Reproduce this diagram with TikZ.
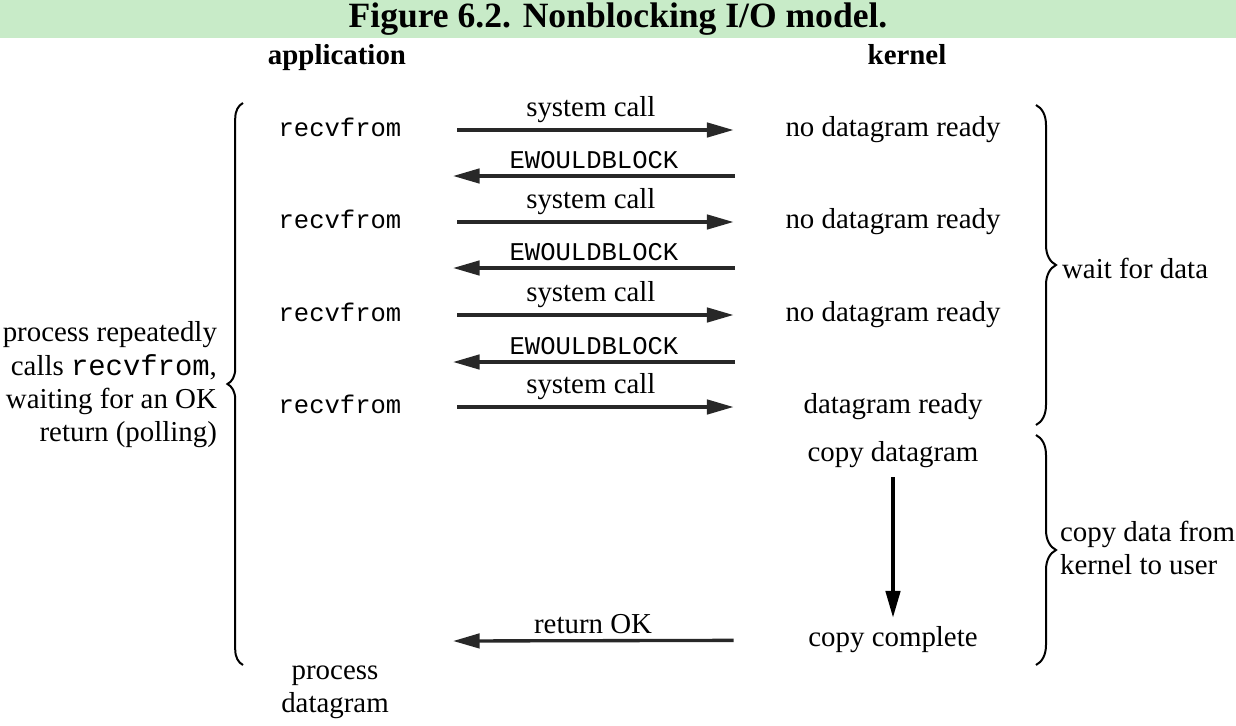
\documentclass[tikz,border=0pt]{standalone}
\usepackage{fontspec}
\setmainfont{Liberation Serif}
\setmonofont{Liberation Mono}
\usetikzlibrary{positioning, calc}
\usetikzlibrary{arrows.meta, decorations.pathreplacing}

\begin{document}
\begin{tikzpicture}[x=0.45pt, y=-0.45pt, font=\fontsize{13}{15}\selectfont, align=center, >={Triangle[length=12pt,width=6.5pt]}, line width=1.5pt]
        % Define colors
        \definecolor{titlegreen}{RGB}{200,235,200}
        \definecolor{inkgray}{RGB}{40,40,40}

        % Frame and title band
        \useasboundingbox (0,0) rectangle (1236,725);
        \fill[titlegreen] (0,0) rectangle (1236,38);
        \node[font=\fontsize{16}{18}\selectfont\bfseries] (title) at (618,19) {Figure 6.2. Nonblocking I/O model.};

        % Column heads
        \node[anchor=base, font=\fontsize{13}{15}\selectfont\bfseries] (apphead) at (337,64) {application};
        \node[anchor=base, font=\fontsize{13}{15}\selectfont\bfseries] (kernhead) at (907,64) {kernel};

        % Nodes
        \foreach \i/\y in {1/130, 2/222, 3/315, 4/407} {
            \node[font=\fontsize{11.5}{13}\selectfont\ttfamily, text height=9pt, text depth=3pt, minimum width=58pt] (app\i) at (340,\y) {recvfrom};
        }
        \foreach \i/\y/\t in {1/130/no datagram ready, 2/222/no datagram ready, 3/315/no datagram ready, 4/407/datagram ready} {
            \node[text height=9pt, text depth=3pt, minimum width=108pt] (kern\i) at (893,\y) {\t};
        }
        \node[text height=9pt, text depth=3pt, minimum width=108pt] (copy) at (893,455) {copy datagram};
        \node[text height=9pt, text depth=3pt, minimum width=108pt] (done) at (893,640) {copy complete};
        \node (proc) at (335,692) {process\\datagram};

        \node[anchor=east, align=right] (poll) at (226,385) {process repeatedly\\calls \texttt{recvfrom},\\waiting for an OK\\return (polling)};
        \node[anchor=west] (wait) at (1053,268) {wait for data};
        \node[anchor=west, align=left] (copyuser) at (1051,548) {copy data from\\kernel to user};

        % Edges
        \foreach \i in {1,...,4} {
            \draw[->, draw=inkgray, shorten <=21pt, shorten >=17pt] (app\i) -- (kern\i) node[midway, above=-1pt] {system call};
        }
        \foreach \i/\y in {1/176, 2/268, 3/362} {
            \coordinate (wk\i) at (735,\y);
            \coordinate (wa\i) at (453,\y);
            \draw[->, draw=inkgray] (wk\i) -- (wa\i) node[midway, above=-1pt, font=\fontsize{11.5}{13}\selectfont\ttfamily] {EWOULDBLOCK};
        }
        \coordinate (ret) at (453,641);
        \draw[->, draw=inkgray, shorten <=17pt] (done) -- (ret) node[pos=0.56, above=-1pt] {return OK};
        \draw[->] (copy) -- (done);

        % Braces
        \draw[decorate, decoration={brace, amplitude=7pt}, line width=0.9pt] (243,665) -- (243,103);
        \draw[decorate, decoration={brace, amplitude=9pt}, line width=0.9pt] (1036,105) -- (1036,425);
        \draw[decorate, decoration={brace, amplitude=9pt}, line width=0.9pt] (1036,435) -- (1036,665);
    \end{tikzpicture}
\end{document}
